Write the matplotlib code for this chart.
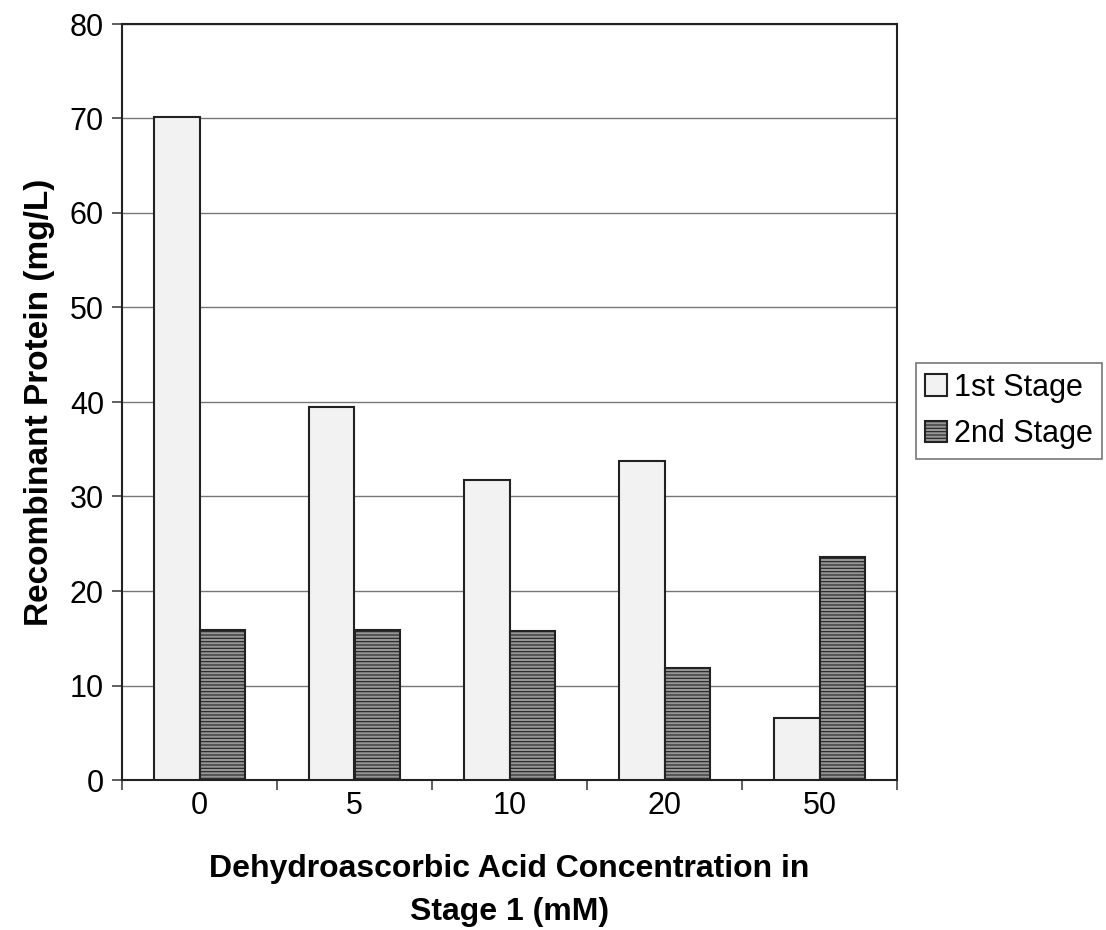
import matplotlib
matplotlib.use("Agg")
import matplotlib.pyplot as plt
import numpy as np

categories = ["0", "5", "10", "20", "50"]
stage1 = [70.2, 39.5, 31.7, 33.8, 6.6]
stage2 = [15.9, 15.9, 15.8, 11.8, 23.6]
series_names = ["1st Stage", "2nd Stage"]

plt.rcParams['font.family'] = ['Liberation Sans', 'DejaVu Sans']
plt.rcParams['hatch.linewidth'] = 0.8
plt.rcParams['hatch.color'] = '#6e6e6e'

fig = plt.figure(figsize=(11.06, 9.30), dpi=100)
ax = fig.add_axes([122/1106, 1-780/930, (897-122)/1106, (780-24)/930])

x = np.arange(len(categories))
w = 0.295
b1 = ax.bar(x - w/2, stage1, w, color='#f2f2f2', edgecolor='#222222', linewidth=1.5, zorder=3)
b2 = ax.bar(x + w/2, stage2, w, color='#959595', edgecolor='#222222', linewidth=1.5,
            hatch='-----', zorder=3)

ax.set_xlim(-0.5, 4.5)
ax.set_ylim(0, 80)
ax.set_yticks(range(0, 81, 10))
ax.yaxis.grid(True, color='#777777', linewidth=1.0, zorder=0)
ax.set_axisbelow(True)

ax.set_xticks(x)
ax.set_xticklabels(categories)
ax.set_xticks(np.arange(-0.5, 5.0, 1.0), minor=True)
ax.tick_params(axis='x', which='major', length=0, pad=8, labelsize=22)
ax.tick_params(axis='x', which='minor', length=7, direction='out', width=1.2, color='#444444')
ax.tick_params(axis='y', length=7, direction='out', width=1.2, labelsize=22, pad=6, color='#444444')

for s in ax.spines.values():
    s.set_linewidth(1.5)
    s.set_color('#222222')

ax.set_ylabel("Recombinant Protein (mg/L)", fontsize=24, fontweight='bold', labelpad=11)
ax.set_xlabel("Dehydroascorbic Acid Concentration in\nStage 1 (mM)", fontsize=23,
              fontweight='bold', labelpad=24, linespacing=1.55)

leg = ax.legend([b1, b2], series_names, loc='center left',
                bbox_to_anchor=(916/1106, 1-411/930), bbox_transform=fig.transFigure,
                fontsize=22, frameon=True, fancybox=False, edgecolor='#555555',
                handlelength=0.7, handleheight=0.7, handletextpad=0.25,
                borderpad=0.3, labelspacing=0.55, borderaxespad=0)
leg.get_frame().set_linewidth(1.2)

fig.savefig("out.png", dpi=100)
